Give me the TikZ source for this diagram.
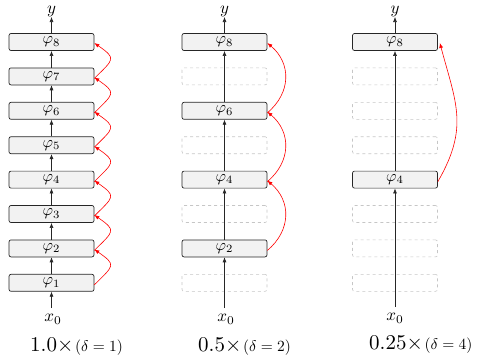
\documentclass[tikz,border=0pt]{standalone}
\usetikzlibrary{arrows.meta}
\begin{document}
\begin{tikzpicture}[x=1pt,y=-1pt,
  box/.style={draw=black!85,fill=gray!10,rounded corners=2pt,minimum width=85pt,minimum height=17pt,inner sep=0pt,line width=0.7pt},
  dbox/.style={draw=gray!45,dashed,rounded corners=2pt,minimum width=85pt,minimum height=17pt,inner sep=0pt,line width=0.6pt},
  arr/.style={-{Latex[length=5pt,width=4pt]},black!85,line width=0.6pt},
  rarr/.style={-{Latex[length=5pt,width=4pt]},red,line width=0.6pt},
  lab/.style={inner sep=0pt},
  captext/.style={inner sep=0pt,anchor=base west}]
\newcommand{\phibox}[1]{\raisebox{-1.5pt}{\scalebox{1.6}{$\varphi_{#1}$}}}
\newcommand{\biglab}[1]{\scalebox{1.7}{$#1$}}
\newcommand{\captxt}[2]{\scalebox{2.1}{#1$\times$}\,\scalebox{1.55}{($\delta = #2$)}}
\useasboundingbox (0,0) rectangle (478,360);
% column 1
\foreach \k in {1,...,8}{
  \node[box] (a\k) at (51.5,{42+(8-\k)*34.4}) {\phibox{\k}};
}
\foreach \i/\j in {1/2,2/3,3/4,4/5,5/6,6/7,7/8}{
  \draw[arr] (a\i.north) -- (a\j.south);
  \draw[rarr] ([yshift=-2pt]a\i.east) to[out=45,in=-35,looseness=2] ([yshift=-1pt]a\j.east);
}
\node[lab,anchor=south] (ya) at (51.5,17) {\biglab{y}};
\draw[arr] (a8.north) -- (ya.south);
\node[lab,anchor=north] (xa) at (53,314) {\biglab{x_0}};
\draw[arr] ([yshift=6pt]xa.north -| a1.south) -- (a1.south);
\node[captext] (ca) at (30,351) {\captxt{1.0}{1}};
% column 2
\foreach \k in {1,3,5,7}{
  \node[dbox] (b\k) at (224.5,{42+(8-\k)*34.4}) {};
}
\foreach \k in {2,4,6,8}{
  \node[box] (b\k) at (224.5,{42+(8-\k)*34.4}) {\phibox{\k}};
}
\foreach \i/\j in {2/4,4/6,6/8}{
  \draw[arr] (b\i.north) -- (b\j.south);
  \draw[rarr] ([yshift=-2pt]b\i.east) to[out=40,in=-40,looseness=1.15] ([yshift=-1pt]b\j.east);
}
\node[lab,anchor=south] (yb) at (224.5,17) {\biglab{y}};
\draw[arr] (b8.north) -- (yb.south);
\node[lab,anchor=north] (xb) at (226,314) {\biglab{x_0}};
\draw[arr] ([yshift=6pt]xb.north -| b2.south) -- (b2.south);
\node[captext] (cb) at (198,351) {\captxt{0.5}{2}};
% column 3
\foreach \k in {1,2,3,5,6,7}{
  \node[dbox] (c\k) at (395,{42+(8-\k)*34.4}) {};
}
\foreach \k in {4,8}{
  \node[box] (c\k) at (395,{42+(8-\k)*34.4}) {\phibox{\k}};
}
\draw[arr] (c4.north) -- (c8.south);
\draw[rarr] ([yshift=-2pt]c4.east) to[out=60,in=-75,looseness=1.15] ([xshift=2pt,yshift=-1pt]c8.east);
\node[lab,anchor=south] (yc) at (395,17) {\biglab{y}};
\draw[arr] (c8.north) -- (yc.south);
\node[lab,anchor=north] (xc) at (395,313) {\biglab{x_0}};
\draw[arr] ([yshift=6pt]xc.north -| c4.south) -- (c4.south);
\node[captext] (cc) at (369,349) {\captxt{0.25}{4}};
\end{tikzpicture}
\end{document}
